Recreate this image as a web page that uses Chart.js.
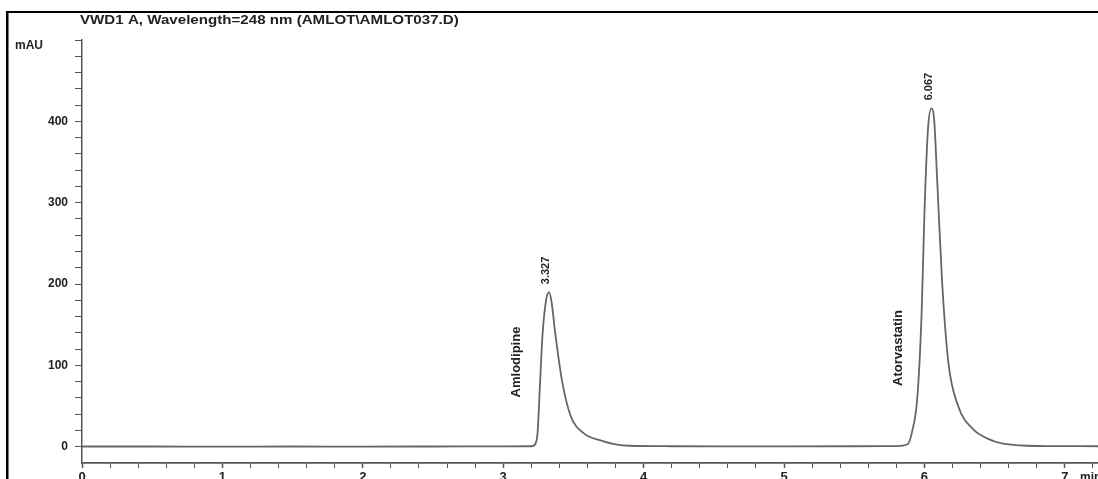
<!DOCTYPE html>
<html>
<head>
<meta charset="utf-8">
<script src="https://cdn.jsdelivr.net/npm/chart.js@4"></script>
<style>
    html, body { margin: 0; padding: 0; background: #fff; overflow: hidden; }
    #wrap { position: relative; width: 1098px; height: 494px; }
</style>
</head>
<body>
<div id="wrap"><canvas id="chrom"></canvas></div>
<script>
// Retention time (min) and detector signal (mAU)
const timeMin = [
    0, 0.5, 1.0, 1.5, 2.0, 2.5, 3.0, 3.20, 3.23, 3.245, 3.26, 3.28, 3.305, 3.327,
    3.345, 3.37, 3.42, 3.48, 3.57, 3.71, 3.80, 3.90, 4.2, 4.6, 5.0, 5.5, 5.80,
    5.88, 5.91, 5.95, 5.98, 6.00, 6.025, 6.05, 6.07, 6.09, 6.125, 6.17, 6.24,
    6.35, 6.45, 6.55, 6.70, 6.9, 7.24
];
const signalMAU = [
    0.3, 0.3, 0.2, 0.3, 0.2, 0.3, 0.4, 0.6, 4, 18, 70, 138, 180, 190,
    177, 140, 80, 38, 17, 7, 3, 1.2, 0.6, 0.5, 0.5, 0.6, 0.8,
    3, 17, 62, 165, 288, 390, 416,
    400, 330, 205, 104, 50,
    21, 10, 4, 1.5, 0.8, 0.6
];

// Peak annotations
const peakTimes = [3.327, 6.05];
const peakHeights = [190, 416];
const peakLabels = ['3.327', '6.067'];
const peakNames = ['Amlodipine', 'Atorvastatin'];

// Axis tick labels
const xTickLabels = [0, 1, 2, 3, 4, 5, 6, 7];
const yTickLabels = [0, 100, 200, 300, 400];

const titleText = 'VWD1 A, Wavelength=248 nm (AMLOT\\AMLOT037.D)';
const BOLD = 'bold 12px "Liberation Sans", Arial, sans-serif';

// Draws the frame, title, units and peak annotations
const annotate = {
    id: 'annotate',
    afterDraw(chart) {
        const ctx = chart.ctx;
        const x = chart.scales.x;
        const y = chart.scales.y;
        ctx.save();

        // page frame
        ctx.fillStyle = '#000';
        ctx.fillRect(6, 11, 2.5, 500);
        ctx.fillRect(6, 11, 1100, 2);

        // title
        ctx.fillStyle = '#222';
        ctx.textBaseline = 'middle';
        ctx.textAlign = 'left';
        ctx.save();
        ctx.translate(80, 20);
        ctx.scale(1.12, 1);
        ctx.font = 'bold 13.5px "Liberation Sans", Arial, sans-serif';
        ctx.fillText(titleText, 0, 0);
        ctx.restore();

        // units
        ctx.font = BOLD;
        ctx.fillText('mAU', 15, 46);
        ctx.fillText('min', 1080, chart.chartArea.bottom + 15);

        // retention times and compound names
        peakTimes.forEach((t, i) => {
            const px = x.getPixelForValue(t);
            const py = y.getPixelForValue(peakHeights[i]);
            ctx.save();
            ctx.translate(px - 3, py - 8);
            ctx.rotate(-Math.PI / 2);
            ctx.font = 'bold 11px "Liberation Sans", Arial, sans-serif';
            ctx.textAlign = 'left';
            ctx.fillText(peakLabels[i], 0, 0);
            ctx.restore();

            const nameY = i === 0 ? 362 : 348;
            ctx.save();
            ctx.translate(px - 33, nameY);
            ctx.rotate(-Math.PI / 2);
            ctx.font = 'bold 13px "Liberation Sans", Arial, sans-serif';
            ctx.textAlign = 'center';
            ctx.fillText(peakNames[i], 0, 0);
            ctx.restore();
        });
        ctx.restore();
    }
};

const points = timeMin.map((t, i) => ({ x: t, y: signalMAU[i] }));

new Chart(document.getElementById('chrom'), {
    type: 'line',
    data: {
        datasets: [{
            data: points,
            borderColor: '#666',
            borderWidth: 1.8,
            pointRadius: 0,
            fill: false,
            cubicInterpolationMode: 'monotone'
        }]
    },
    options: {
        responsive: true,
        maintainAspectRatio: false,
        animation: false,
        layout: { padding: { top: 40, right: 0, bottom: 0, left: 0 } },
        plugins: {
            legend: { display: false },
            tooltip: { enabled: false }
        },
        scales: {
            x: {
                type: 'linear',
                min: 0,
                max: 7.236,
                border: { display: true, color: '#555', width: 1.8 },
                grid: {
                    drawOnChartArea: false,
                    tickLength: 5,
                    tickColor: '#555',
                    tickWidth: c => xTickLabels.includes(c.tick.value) ? 1.5 : 1
                },
                ticks: {
                    stepSize: 0.2,
                    includeBounds: false,
                    autoSkip: false,
                    maxRotation: 0,
                    padding: 2,
                    color: '#222',
                    font: { family: '"Liberation Sans", Arial, sans-serif', size: 13, weight: 'bold' },
                    callback: v => xTickLabels.includes(v) ? String(v) : ''
                },
                afterFit: s => { s.height = 31; }
            },
            y: {
                min: -20,
                max: 500,
                border: { display: true, color: '#555', width: 1.5 },
                grid: {
                    drawOnChartArea: false,
                    tickLength: 7,
                    tickColor: c => c.tick.value < 0 ? 'rgba(0,0,0,0)' : '#555'
                },
                ticks: {
                    stepSize: 20,
                    includeBounds: false,
                    autoSkip: false,
                    padding: 7,
                    color: '#222',
                    font: { family: '"Liberation Sans", Arial, sans-serif', size: 12, weight: 'bold' },
                    callback: v => yTickLabels.includes(v) ? String(v) : ''
                },
                afterFit: s => { s.width = 82; }
            }
        }
    },
    plugins: [annotate]
});
</script>
</body>
</html>
